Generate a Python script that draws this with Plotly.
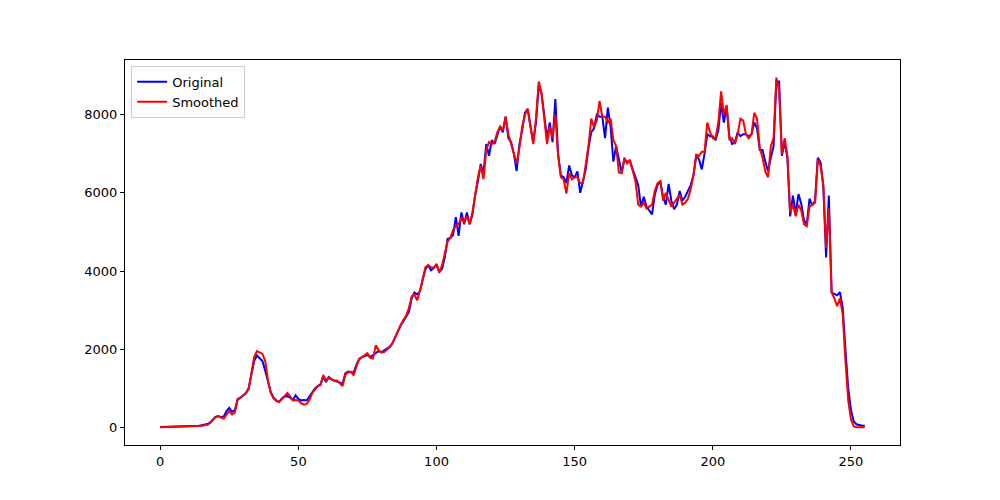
import plotly.graph_objects as go

x_index = list(range(256))

original = [
    10, 12, 12, 14, 15, 15, 16, 18, 20, 22,
    24, 28, 32, 38, 45, 55, 65, 85, 120, 190,
    270, 290, 260, 280, 420, 500, 400, 440, 720, 760,
    830, 880, 1000, 1400, 1700, 1840, 1780, 1700, 1450, 1150,
    900, 760, 690, 650, 740, 790, 800, 760, 700, 820,
    730, 690, 700, 690, 800, 920, 1000, 1060, 1100, 1300,
    1160, 1290, 1230, 1200, 1180, 1150, 1120, 1380, 1430, 1420,
    1400, 1600, 1740, 1800, 1820, 1850, 1800, 1850, 1920, 1950,
    1920, 1960, 2000, 2060, 2150, 2280, 2450, 2600, 2720, 2850,
    2950, 3300, 3450, 3400, 3480, 3780, 4050, 4150, 4020, 4080,
    4160, 3980, 4050, 4350, 4820, 4850, 4920, 5380, 4900, 5500,
    5200, 5500, 5200, 5450, 5950, 6300, 6740, 6500, 7250, 6950,
    7350, 7250, 7450, 7700, 7550, 7950, 7400, 7300, 7000, 6560,
    7250, 7600, 8050, 8150, 7700, 7300, 7800, 8750, 8550, 7900,
    7400, 7800, 7300, 8400, 7000, 6450, 6400, 6250, 6700, 6450,
    6400, 6550, 6000, 6300, 6600, 7150, 7550, 7650, 8000, 7950,
    7950, 7400, 8180, 7700, 6800, 7200, 6850, 6520, 6850, 6800,
    6800, 6600, 6400, 6200, 5650, 5900, 5650, 5550, 5450, 5950,
    6200, 6300, 5900, 5700, 6230, 5800, 5580, 5700, 6050, 5800,
    5900, 6050, 6200, 6450, 6950, 6860, 6600, 7000, 7500, 7450,
    7450, 7350, 7600, 8300, 7800, 8200, 7450, 7250, 7300, 7550,
    7450, 7500, 7500, 7450, 7500, 7800, 7650, 7100, 7100, 6800,
    6550, 6900, 7200, 8850, 8850, 6950, 7300, 6900, 5400, 5930,
    5460, 5970, 5720, 5300, 5200, 5850, 5680, 5800, 6900, 6780,
    6150, 4350, 5930, 3450, 3420, 3380, 3460, 3080, 2000, 1000,
    450, 150, 80, 55, 45, 40,
]

smoothed = [
    5, 6, 7, 8, 9, 10, 11, 12, 14, 16,
    18, 20, 24, 28, 34, 42, 52, 70, 105, 180,
    265, 285, 250, 220, 330, 420, 330, 380, 700, 750,
    820, 870, 980, 1450, 1800, 1950, 1920, 1880, 1700, 1200,
    880, 740, 680, 650, 720, 800, 880, 800, 690, 700,
    690, 620, 580, 600, 700, 880, 980, 1050, 1080, 1340,
    1200, 1270, 1230, 1190, 1200, 1130, 1060, 1350, 1410, 1420,
    1330, 1560, 1760, 1800, 1850, 1900, 1780, 1760, 2100, 1980,
    1920, 1920, 1990, 2050, 2140, 2300, 2500, 2620, 2750, 2860,
    3050, 3350, 3400, 3250, 3500, 3820, 4100, 4150, 4100, 4080,
    4180, 3960, 4150, 4450, 4750, 4850, 5050, 5150, 5200, 5350,
    5250, 5400, 5200, 5500, 5950, 6400, 6700, 6350, 7100, 7300,
    7250, 7300, 7550, 7700, 7600, 7950, 7500, 7250, 7000, 6750,
    7150, 7700, 8000, 8150, 7700, 7250, 7900, 8850, 8550, 7800,
    7250, 7700, 7400, 8000, 6950, 6400, 6350, 5980, 6500, 6350,
    6400, 6400, 6250, 6250, 6700, 7200, 7900, 7680, 7850, 8350,
    7950, 7950, 7800, 7900, 7350, 7200, 6520, 6500, 6900, 6750,
    6850, 6600, 6300, 5700, 5650, 5750, 5600, 5650, 5700, 6050,
    6250, 6300, 5800, 6000, 5800, 5650, 5750, 5850, 5950, 5700,
    5750, 5850, 6100, 6450, 6980, 6950, 7050, 7050, 7800, 7550,
    7400, 7400, 7800, 8600, 8000, 8250, 7350, 7400, 7250, 7500,
    7900, 7850, 7500, 7400, 7500, 8050, 7900, 7150, 6900, 6550,
    6400, 7200, 7400, 8950, 8600, 7000, 7400, 6950, 5500, 5700,
    5400, 5700, 5550, 5200, 5150, 5650, 5700, 5750, 6850, 6700,
    6200, 4600, 5600, 3450, 3300, 3100, 3300, 2900, 1700, 700,
    200, 30, 5, 5, 5, 5,
]

x_ticks = [0, 50, 100, 150, 200, 250]
y_ticks = [0, 2000, 4000, 6000, 8000]

fig = go.Figure()
fig.add_trace(go.Scatter(x=x_index, y=original, mode="lines", name="Original",
                         line=dict(color="#0000ff", width=2)))
fig.add_trace(go.Scatter(x=x_index, y=smoothed, mode="lines", name="Smoothed",
                         line=dict(color="#ff0000", width=2)))

axis_common = dict(showgrid=False, zeroline=False, showline=True, linecolor="black",
                   linewidth=1, mirror=True, ticks="outside", ticklen=4, tickwidth=1,
                   tickcolor="black", tickfont=dict(family="DejaVu Sans", size=13, color="black"))

fig.update_layout(
    width=1000, height=500,
    paper_bgcolor="white", plot_bgcolor="white",
    margin=dict(l=117, r=108, t=52, b=63),
    font=dict(family="DejaVu Sans", size=13, color="black"),
    showlegend=True,
    legend=dict(x=0.008, y=0.985, xanchor="left", yanchor="top",
                bgcolor="rgba(255,255,255,0.8)", bordercolor="#cccccc", borderwidth=1,
                font=dict(family="DejaVu Sans", size=13)),
    xaxis=dict(range=[-12.75, 267.75], tickvals=x_ticks, automargin=False, **axis_common),
    yaxis=dict(range=[-450, 9400], tickvals=y_ticks, automargin=False, **axis_common),
)

fig.write_html("out.html")
